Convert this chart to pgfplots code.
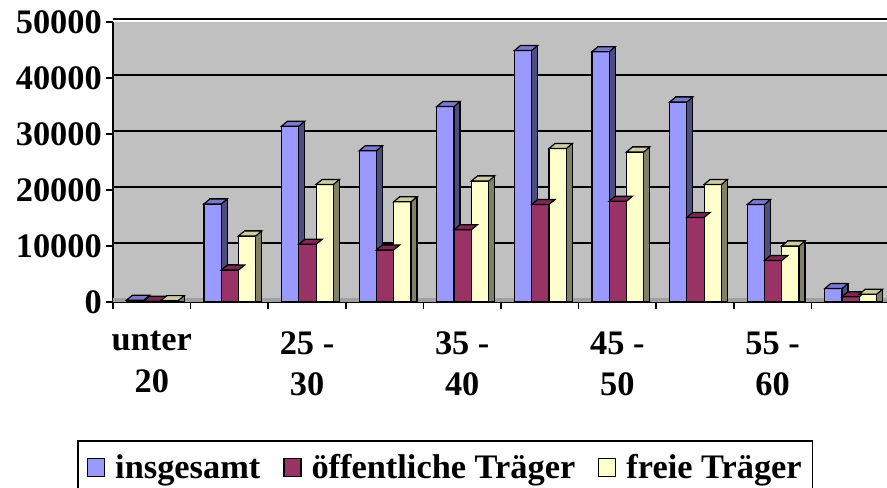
\documentclass[border=0pt]{standalone}
\usepackage{fontspec}
\setmainfont{Liberation Serif}
\usepackage{pgfplots}
\usepackage{pgfplotstable}
\pgfplotsset{compat=1.18}
\definecolor{bfront}{HTML}{9999FF}
\definecolor{bside}{HTML}{4D4D80}
\definecolor{btop}{HTML}{7A7ACC}
\definecolor{rfront}{HTML}{993366}
\definecolor{rside}{HTML}{4D1A33}
\definecolor{rtop}{HTML}{7A2952}
\definecolor{yfront}{HTML}{FFFFCC}
\definecolor{yside}{HTML}{808066}
\definecolor{ytop}{HTML}{CCCCA3}
\definecolor{wall}{HTML}{C0C0C0}
\definecolor{floorc}{HTML}{A0A0A0}
\definecolor{walltop}{HTML}{808080}

\pgfplotstableread{
x ins oeff frei
0 300 150 250
1 17500 5700 11800
2 31400 10300 21000
3 27000 9300 17900
4 34900 12900 21600
5 44900 17400 27400
6 44700 18000 26800
7 35700 15100 21000
8 17400 7400 10000
9 2400 950 1400
}\data

% top face of a 3D bar, as a plot mark; #2 = horizontal centre offset of the bar
\newcommand\deftop[2]{%
  \pgfdeclareplotmark{#1}{%
    \pgfpathmoveto{\pgfpoint{#2bp-8.65bp}{0bp}}%
    \pgfpathlineto{\pgfpoint{#2bp-2.65bp}{5bp}}%
    \pgfpathlineto{\pgfpoint{#2bp+14.65bp}{5bp}}%
    \pgfpathlineto{\pgfpoint{#2bp+8.65bp}{0bp}}%
    \pgfpathclose\pgfusepathqfillstroke}}
\deftop{topb}{-16.8}
\deftop{topr}{0.5}
\deftop{topy}{17.8}

\begin{document}
\begin{tikzpicture}
\begin{axis}[
  at={(0bp,0bp)}, anchor=south west,
  scale only axis, width=776bp, height=280bp,
  xmin=-0.5, xmax=9.5, ymin=0, ymax=50000,
  axis x line*=bottom, axis y line*=left,
  axis line style={black, line width=2bp},
  axis background/.style={fill=wall},
  tick align=outside, major tick length=7bp,
  tick style={black, line width=1.5bp},
  xtick={-0.5,0.5,...,9.5}, xticklabels={},
  extra x ticks={0,2,4,6,8},
  extra x tick labels={{unter\\20},{25 -\\30},{35 -\\40},{45 -\\50},{55 -\\60}},
  extra x tick style={major tick length=0pt, xticklabel style={align=center, font=\fontsize{34.5}{41.5}\selectfont\bfseries, yshift=-26bp}},
  ytick={0,10000,...,50000},
  scaled y ticks=false,
  yticklabels={0,10000,20000,30000,40000,50000},
  yticklabel style={font=\fontsize{34.5}{36}\selectfont\bfseries, inner sep=0pt, xshift=-4bp},
  ymajorgrids, major grid style={black, line width=1.4bp, yshift=3bp},
  legend columns=3,
  legend style={at={(0.4283,-0.4929)}, anchor=north, draw=black, line width=1.5bp,
    font=\fontsize{34.5}{36}\selectfont\bfseries, inner xsep=9bp, inner ysep=12bp,
    nodes={inner sep=2bp},
    /tikz/every odd column/.append style={column sep=8bp},
    /tikz/every even column/.append style={column sep=21bp}},
]
\fill[floorc] (axis cs:-0.5,0) rectangle (axis cs:9.5,800);
\draw[walltop, line width=2.5bp] ([yshift=3bp]rel axis cs:0,1) -- ([yshift=3bp]rel axis cs:1,1);
% insgesamt
\addplot[ybar, forget plot, bar width=17.3bp, bar shift=-10.8bp, fill=bside, draw=black, line width=1.2bp] table[x=x, y expr=\thisrow{ins}+893] {\data};
\addplot[ybar, forget plot, bar width=17.3bp, bar shift=-16.8bp, fill=bfront, draw=black, line width=1.2bp] table[x=x, y=ins] {\data};
\addplot[only marks, forget plot, mark=topb, mark options={solid, fill=btop, draw=black, line width=1.2bp}] table[x=x, y=ins] {\data};
% oeffentliche
\addplot[ybar, forget plot, bar width=17.3bp, bar shift=6.5bp, fill=rside, draw=black, line width=1.2bp] table[x=x, y expr=\thisrow{oeff}+893] {\data};
\addplot[ybar, forget plot, bar width=17.3bp, bar shift=0.5bp, fill=rfront, draw=black, line width=1.2bp] table[x=x, y=oeff] {\data};
\addplot[only marks, forget plot, mark=topr, mark options={solid, fill=rtop, draw=black, line width=1.2bp}] table[x=x, y=oeff] {\data};
% freie
\addplot[ybar, forget plot, bar width=17.3bp, bar shift=23.8bp, fill=yside, draw=black, line width=1.2bp] table[x=x, y expr=\thisrow{frei}+893] {\data};
\addplot[ybar, forget plot, bar width=17.3bp, bar shift=17.8bp, fill=yfront, draw=black, line width=1.2bp] table[x=x, y=frei] {\data};
\addplot[only marks, forget plot, mark=topy, mark options={solid, fill=ytop, draw=black, line width=1.2bp}] table[x=x, y=frei] {\data};
\addlegendimage{legend image code/.code={\filldraw[fill=bfront,draw=black,line width=1.2bp] (0bp,-9bp) rectangle (17bp,9bp);}}
\addlegendentry{insgesamt}
\addlegendimage{legend image code/.code={\filldraw[fill=rfront,draw=black,line width=1.2bp] (0bp,-9bp) rectangle (17bp,9bp);}}
\addlegendentry{öffentliche Träger}
\addlegendimage{legend image code/.code={\filldraw[fill=yfront,draw=black,line width=1.2bp] (0bp,-9bp) rectangle (17bp,9bp);}}
\addlegendentry{freie Träger}
\end{axis}
\pgfresetboundingbox
\path[use as bounding box] (-113bp,-186bp) rectangle (774bp,302bp);
\end{tikzpicture}
\end{document}
